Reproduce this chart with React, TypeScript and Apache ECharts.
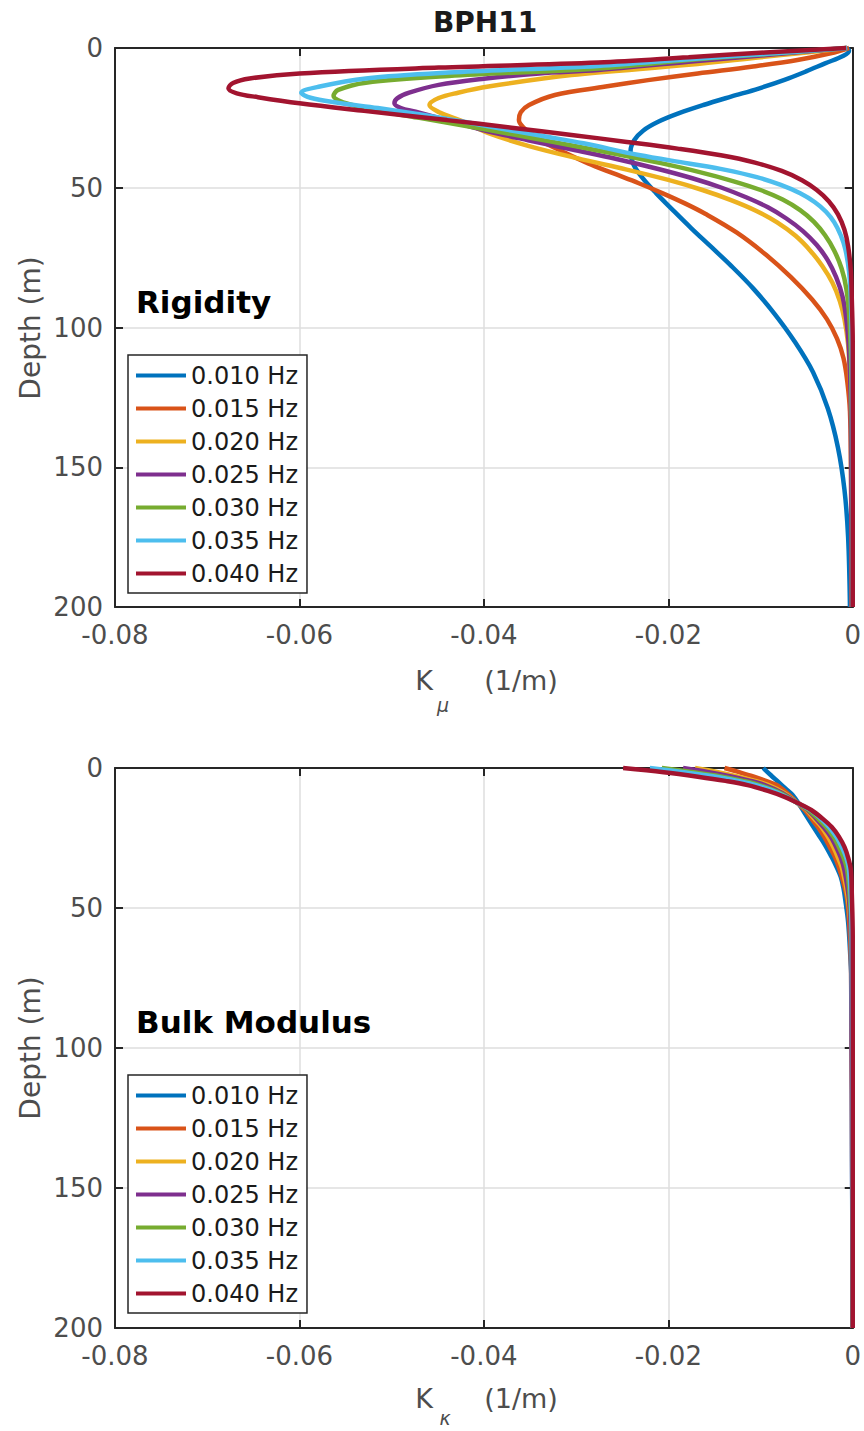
import React, { useEffect, useRef } from "react";
import * as echarts from "echarts";

// ---------- data (value K in 1/m, depth in m) ----------
const FREQS = ["0.010 Hz", "0.015 Hz", "0.020 Hz", "0.025 Hz", "0.030 Hz", "0.035 Hz", "0.040 Hz"];
const COLORS = ["#0072BD", "#D95319", "#EDB120", "#7E2F8E", "#77AC30", "#4DBEEE", "#A2142F"];
const X_TICKS = [-0.08, -0.06, -0.04, -0.02, 0];
const Y_TICKS = [0, 50, 100, 150, 200];

// Rigidity kernels [K_mu, depth]
const rig010: number[][] = [
  [-0.0006, 0], [-0.0004, 1], [-0.001, 2.8], [-0.003, 5.5], [-0.005, 8.3], [-0.0074, 11.4],
  [-0.0102, 14.5], [-0.0132, 17.4], [-0.0162, 20.4], [-0.0189, 23.4], [-0.0211, 26.4], [-0.0227, 29.5],
  [-0.0237, 33], [-0.0241, 37], [-0.0238, 41.5], [-0.0228, 46.5], [-0.0213, 52], [-0.0195, 58],
  [-0.0175, 64.5], [-0.0154, 71], [-0.0131, 78.2], [-0.0108, 86], [-0.0085, 95], [-0.0063, 105],
  [-0.0043, 116], [-0.0027, 129], [-0.0016, 143], [-0.0009, 158], [-0.0005, 175], [-0.0003, 200],
];
const rig015: number[][] = [
  [-0.0004, 0], [-0.0024, 1.9], [-0.006, 4.3], [-0.011, 6.7], [-0.0168, 9.1], [-0.0222, 11.5],
  [-0.0268, 13.8], [-0.0323, 16.8], [-0.0351, 20.4], [-0.036, 23], [-0.0362, 25.8], [-0.0357, 28.5],
  [-0.034, 32.9], [-0.0315, 37], [-0.0287, 41.3], [-0.026, 44.8], [-0.0232, 48.4], [-0.0206, 52],
  [-0.0182, 55.6], [-0.016, 59.3], [-0.0126, 66], [-0.0094, 74], [-0.0067, 82], [-0.0044, 90],
  [-0.0028, 97], [-0.0017, 104], [-0.001, 111], [-0.0006, 119], [-0.0003, 130], [-0.0002, 150],
  [-0.0001, 200],
];
const rig020: number[][] = [
  [-0.0007, 0], [-0.005, 1.6], [-0.01, 3.3], [-0.0178, 6.0], [-0.0305, 9.7], [-0.0395, 13.8],
  [-0.0428, 16], [-0.0449, 17.9], [-0.0459, 20.4], [-0.0449, 22.9], [-0.0425, 26], [-0.0395, 30.5],
  [-0.0352, 35], [-0.0298, 39.5], [-0.0245, 43.5], [-0.02, 47.2], [-0.0163, 50.8], [-0.0132, 54.4],
  [-0.0105, 58.2], [-0.0082, 62.4], [-0.0062, 67.2], [-0.0046, 72.5], [-0.0033, 78], [-0.0022, 84],
  [-0.0014, 90.5], [-0.0009, 97], [-0.0005, 106], [-0.0003, 118], [-0.0001, 145], [-0.0001, 200],
];
const rig025: number[][] = [
  [-0.0006, 0], [-0.009, 2.4], [-0.0178, 4.9], [-0.0276, 7.9], [-0.034, 9.1], [-0.04, 11],
  [-0.0449, 13.2], [-0.0481, 16], [-0.0494, 18], [-0.0497, 19.8], [-0.049, 21.5], [-0.0474, 22.8],
  [-0.0438, 26], [-0.0398, 29.6], [-0.0352, 33], [-0.0303, 36.4], [-0.0255, 39.8], [-0.0212, 43.2],
  [-0.0174, 46.6], [-0.0142, 50], [-0.0115, 53.5], [-0.0092, 57], [-0.0072, 61], [-0.0054, 65.5],
  [-0.0039, 70.5], [-0.0027, 76], [-0.0018, 82], [-0.0011, 89], [-0.0007, 97], [-0.0004, 108],
  [-0.0002, 130], [-0.0001, 200],
];
const rig030: number[][] = [
  [-0.0006, 0], [-0.009, 2.1], [-0.0178, 4.3], [-0.0276, 7.3], [-0.0438, 10], [-0.0528, 12.4],
  [-0.0558, 15], [-0.0563, 17.2], [-0.0556, 19], [-0.0538, 20.8], [-0.0508, 22.8], [-0.047, 25],
  [-0.043, 27.3], [-0.039, 29.6], [-0.0348, 32.2], [-0.0303, 35], [-0.0255, 38], [-0.0208, 41.2],
  [-0.0166, 44.4], [-0.013, 47.6], [-0.01, 50.8], [-0.0076, 54.2], [-0.0057, 58], [-0.0042, 62.2],
  [-0.003, 67], [-0.002, 72.5], [-0.0012, 79], [-0.0007, 86], [-0.0004, 95], [-0.0002, 110],
  [-0.0001, 135], [0, 200],
];
const rig035: number[][] = [
  [-0.0006, 0], [-0.009, 2], [-0.0178, 4.0], [-0.0276, 6.4], [-0.0438, 8.8], [-0.0528, 10.9],
  [-0.0578, 13.8], [-0.0598, 16], [-0.0588, 17.8], [-0.056, 19.5], [-0.0515, 21.5], [-0.0465, 24],
  [-0.042, 26.5], [-0.0382, 28.8], [-0.0336, 31.5], [-0.0292, 34.1], [-0.0232, 38.3], [-0.0178, 41.3],
  [-0.0138, 43.6], [-0.0104, 46.2], [-0.0078, 49], [-0.0057, 52], [-0.0041, 55.2], [-0.0029, 58.6],
  [-0.002, 62.4], [-0.0013, 67], [-0.0008, 72], [-0.0004, 80], [-0.0002, 90], [-0.0001, 105],
  [0, 200],
];
const rig040: number[][] = [
  [-0.0007, 0], [-0.0095, 1.6], [-0.0178, 3.3], [-0.0276, 5.2], [-0.0449, 7.0], [-0.06, 9.1],
  [-0.0654, 10.9], [-0.0672, 12.5], [-0.0677, 14.4], [-0.0668, 16.2], [-0.0645, 17.6], [-0.06, 19.8],
  [-0.053, 22.5], [-0.044, 25.8], [-0.037, 28.5], [-0.0305, 31.1], [-0.0245, 33.6], [-0.019, 36],
  [-0.0143, 38.4], [-0.0106, 41], [-0.0077, 44], [-0.0055, 47.3], [-0.0039, 50.8], [-0.0026, 54.8],
  [-0.0016, 59.5], [-0.0009, 65], [-0.0005, 71], [-0.0002, 80], [-0.0001, 90], [0, 105], [0, 200],
];

// Bulk modulus kernels [K_kappa, depth]
const bulk010: number[][] = [
  [-0.0097, 0], [-0.0089, 2.5], [-0.0081, 4.9], [-0.0073, 7.3], [-0.0065, 9.7], [-0.0058, 13],
  [-0.0052, 16.2], [-0.0045, 19.8], [-0.0038, 23.4], [-0.003, 27.5], [-0.0023, 31.7], [-0.0018, 35],
  [-0.0013, 38.9], [-0.001, 43], [-0.0008, 47.2], [-0.0005, 55], [-0.0003, 65], [-0.0001, 80],
  [-0.0001, 100], [0, 200],
];
const bulk015: number[][] = [
  [-0.0139, 0], [-0.0123, 1.5], [-0.0108, 3], [-0.0095, 4.5], [-0.0083, 6], [-0.0071, 9],
  [-0.006, 12.5], [-0.0052, 15], [-0.0045, 18], [-0.0038, 21], [-0.0031, 24.5], [-0.0025, 28.2],
  [-0.0019, 32], [-0.0014, 36.5], [-0.001, 41], [-0.0006, 47], [-0.0003, 60], [-0.0001, 80], [0, 200],
];
const bulk020: number[][] = [
  [-0.0171, 0], [-0.0146, 1.5], [-0.0125, 3], [-0.0107, 4.5], [-0.0092, 6], [-0.0074, 9],
  [-0.006, 12.5], [-0.005, 15], [-0.0042, 18], [-0.0034, 21], [-0.0027, 24.5], [-0.0021, 28.2],
  [-0.0016, 32], [-0.0011, 36.5], [-0.0005, 47], [-0.0002, 60], [0, 200],
];
const bulk025: number[][] = [
  [-0.0184, 0], [-0.0156, 1.5], [-0.0132, 3], [-0.0112, 4.5], [-0.0096, 6], [-0.0076, 9],
  [-0.006, 12.5], [-0.0049, 15], [-0.004, 18], [-0.0032, 21], [-0.0024, 24.5], [-0.0018, 28.2],
  [-0.0013, 32], [-0.0009, 36.5], [-0.0004, 47], [-0.0002, 60], [0, 200],
];
const bulk030: number[][] = [
  [-0.0207, 0], [-0.0173, 1.5], [-0.0143, 3], [-0.012, 4.5], [-0.0102, 6], [-0.0078, 9],
  [-0.006, 12.5], [-0.0048, 15], [-0.0038, 18], [-0.0029, 21], [-0.0021, 24.5], [-0.0015, 28.2],
  [-0.001, 32], [-0.0006, 36.5], [-0.0003, 47], [-0.0001, 60], [0, 200],
];
const bulk035: number[][] = [
  [-0.022, 0], [-0.0183, 1.5], [-0.015, 3], [-0.0126, 4.5], [-0.0106, 6], [-0.008, 9],
  [-0.006, 12.5], [-0.0046, 15], [-0.0035, 18], [-0.0026, 21], [-0.0018, 24.5], [-0.0012, 28.2],
  [-0.0007, 32], [-0.0004, 36.5], [-0.0002, 47], [-0.0001, 60], [0, 200],
];
const bulk040: number[][] = [
  [-0.0249, 0], [-0.0205, 1.5], [-0.0168, 3.1], [-0.0138, 4.6], [-0.0114, 6.1], [-0.0092, 8.2],
  [-0.0074, 10.3], [-0.0059, 12.6], [-0.0045, 15], [-0.0033, 18], [-0.0023, 21], [-0.0015, 24.5],
  [-0.0009, 28.2], [-0.0005, 32], [-0.0002, 36.5], [-0.0001, 45], [0, 60], [0, 200],
];

const RIGIDITY = [rig010, rig015, rig020, rig025, rig030, rig035, rig040];
const BULK = [bulk010, bulk015, bulk020, bulk025, bulk030, bulk035, bulk040];

const FONT = "DejaVu Sans";
const AXIS_COLOR = "#262626";
const LABEL_COLOR = "#4d4d4d";

function makeAxes(gridIndex: number) {
  const axisLine = { show: true, onZero: false, lineStyle: { color: AXIS_COLOR, width: 2 } };
  const axisTick = { show: true, inside: true, length: 8, lineStyle: { color: AXIS_COLOR, width: 2 } };
  const xBase = { gridIndex, type: "value", min: X_TICKS[0], max: X_TICKS[X_TICKS.length - 1], interval: 0.02 };
  const yBase = { gridIndex, type: "value", inverse: true, min: Y_TICKS[0], max: Y_TICKS[Y_TICKS.length - 1], interval: 50 };
  const xAxes = [
    {
      ...xBase,
      position: "bottom",
      axisLine,
      axisTick,
      axisLabel: {
        show: true,
        margin: 15,
        color: LABEL_COLOR,
        fontSize: 26,
        fontFamily: FONT,
        formatter: (v: number) => (Math.abs(v) < 1e-9 ? "0" : v.toFixed(2)),
      },
      splitLine: { show: true, lineStyle: { color: "#dedede", width: 1.5 } },
    },
    { ...xBase, position: "top", axisLine, axisTick, axisLabel: { show: false }, splitLine: { show: false } },
  ];
  const yAxes = [
    {
      ...yBase,
      position: "left",
      axisLine,
      axisTick,
      axisLabel: { show: true, margin: 12, color: LABEL_COLOR, fontSize: 26, fontFamily: FONT },
      splitLine: { show: true, lineStyle: { color: "#dedede", width: 1.5 } },
    },
    { ...yBase, position: "right", axisLine, axisTick, axisLabel: { show: false }, splitLine: { show: false } },
  ];
  return { xAxes, yAxes };
}

function makeLegend(top: number) {
  return {
    top,
    left: 128,
    orient: "vertical",
    data: FREQS,
    icon: "rect",
    itemWidth: 50,
    itemHeight: 4,
    itemGap: 0,
    selectedMode: false,
    backgroundColor: "#ffffff",
    borderColor: AXIS_COLOR,
    borderWidth: 1.5,
    borderRadius: 0,
    padding: [4, 9, 3, 8],
    textStyle: { fontSize: 24, lineHeight: 33, color: "#1a1a1a", fontFamily: FONT },
  };
}

function txt(x: number, y: number, text: string, fontSize: number, opts: any = {}) {
  return {
    type: "text",
    x,
    y,
    rotation: opts.rotation || 0,
    style: {
      text,
      fontSize,
      fontFamily: FONT,
      fontWeight: opts.bold ? "bold" : "normal",
      fontStyle: opts.italic ? "italic" : "normal",
      fill: opts.color || LABEL_COLOR,
      align: opts.align || "center",
      verticalAlign: "middle",
    },
    z: 100,
  };
}

function makeSeries(list: number[][][], axisIndex: number) {
  return list.map((data, i) => ({
    name: FREQS[i],
    type: "line",
    xAxisIndex: axisIndex,
    yAxisIndex: axisIndex,
    data,
    smooth: 0.35,
    showSymbol: false,
    clip: false,
    color: COLORS[i],
    itemStyle: { color: COLORS[i] },
    lineStyle: { color: COLORS[i], width: 4.5 },
  }));
}

export default function App() {
  const ref = useRef<HTMLDivElement>(null);

  useEffect(() => {
    if (!ref.current) return;
    const chart = echarts.init(ref.current, null, { renderer: "svg" });
    const a0 = makeAxes(0);
    const a1 = makeAxes(1);

    chart.setOption({
      animation: false,
      backgroundColor: "#ffffff",
      grid: [
        { left: 115, top: 48, width: 740, height: 559, containLabel: false },
        { left: 115, top: 768, width: 740, height: 560, containLabel: false },
      ],
      xAxis: [...a0.xAxes, ...a1.xAxes],
      yAxis: [...a0.yAxes, ...a1.yAxes],
      legend: [makeLegend(355), makeLegend(1075)],
      series: [...makeSeries(RIGIDITY, 0), ...makeSeries(BULK, 2)],
      graphic: [
        txt(485, 22, "BPH11", 28, { bold: true, color: "#1a1a1a" }),
        txt(136, 302, "Rigidity", 31, { bold: true, color: "#000000", align: "left" }),
        txt(136, 1022, "Bulk Modulus", 31, { bold: true, color: "#000000", align: "left" }),
        txt(30, 328, "Depth (m)", 28, { rotation: Math.PI / 2 }),
        txt(30, 1048, "Depth (m)", 28, { rotation: Math.PI / 2 }),
        txt(424, 680, "K", 27),
        txt(443, 705, "μ", 19, { italic: true }),
        txt(521, 680, "(1/m)", 27),
        txt(424, 1398, "K", 27),
        txt(445, 1418, "κ", 19, { italic: true }),
        txt(521, 1398, "(1/m)", 27),
      ],
    });
    return () => chart.dispose();
  }, []);

  return (
    <div
      ref={ref}
      style={{ position: "absolute", left: 0, top: 0, width: 864, height: 1431, background: "#fff" }}
    />
  );
}
